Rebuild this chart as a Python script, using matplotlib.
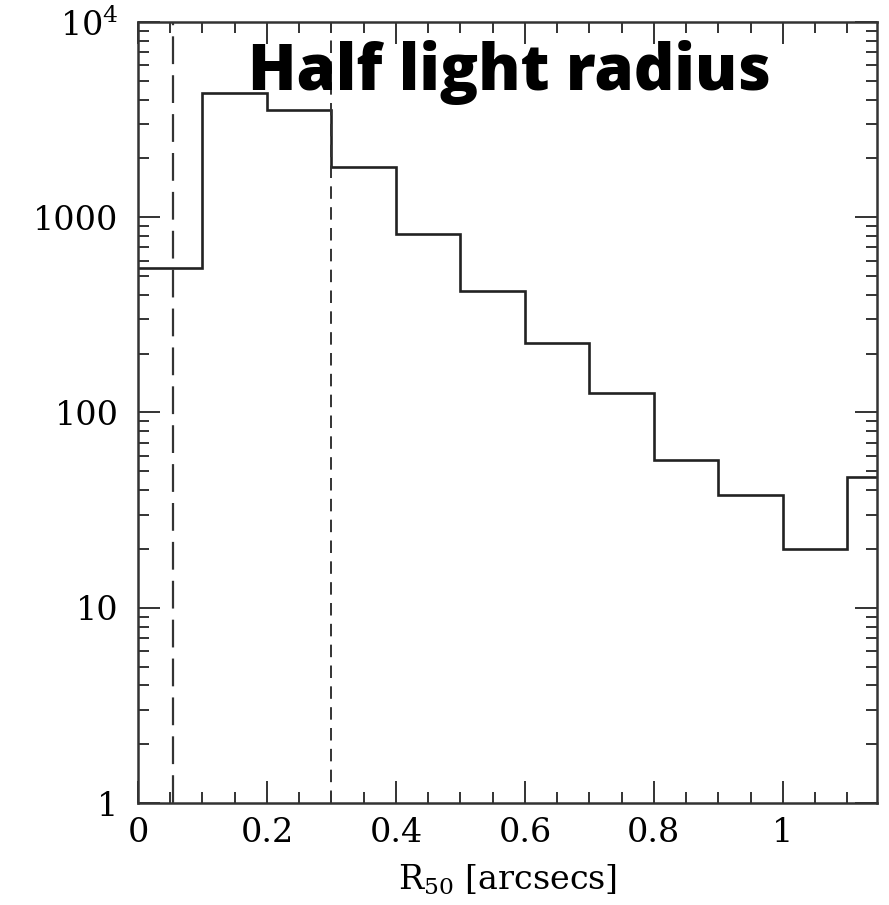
import numpy as np
import matplotlib
matplotlib.use("Agg")
import matplotlib.pyplot as plt
from matplotlib.ticker import LogLocator, MultipleLocator, NullFormatter, FixedLocator, FixedFormatter

# histogram of half light radius, bins of 0.1 arcsec (last one runs off the axis)
bin_edges = [0.0, 0.1, 0.2, 0.3, 0.4, 0.5, 0.6, 0.7, 0.8, 0.9, 1.0, 1.1, 1.15]
counts = [550, 4330, 3540, 1810, 820, 419, 227, 126, 57, 38, 20, 47]

psf_cut = 0.055
size_cut = 0.3

y_ticks = [1, 10, 100, 1000, 10000]
y_ticklabels = ["1", "10", "100", "1000", r"$10^4$"]
x_ticks = [0, 0.2, 0.4, 0.6, 0.8, 1.0]
x_ticklabels = ["0", "0.2", "0.4", "0.6", "0.8", "1"]

plt.rcParams["font.family"] = "DejaVu Serif"
plt.rcParams["mathtext.fontset"] = "dejavuserif"
plt.rcParams["lines.scale_dashes"] = False

fig = plt.figure(figsize=(8.89, 9.05), dpi=100)
ax = fig.add_axes([0.1552, 0.1127, 0.8313, 0.863])

ax.stairs(counts, bin_edges, baseline=None, color="#222222", lw=1.9)
ax.axvline(psf_cut, color="#333333", lw=1.6, dashes=(20, 8))
ax.axvline(size_cut, color="#333333", lw=1.4, dashes=(9, 6))

ax.set_yscale("log")
ax.set_ylim(1, 1e4)
ax.set_xlim(0, 1.146)

ax.xaxis.set_major_locator(FixedLocator(x_ticks))
ax.xaxis.set_major_formatter(FixedFormatter(x_ticklabels))
ax.xaxis.set_minor_locator(MultipleLocator(0.05))
ax.yaxis.set_major_locator(FixedLocator(y_ticks))
ax.yaxis.set_major_formatter(FixedFormatter(y_ticklabels))
ax.yaxis.set_minor_locator(LogLocator(base=10, subs=np.arange(2, 10)))
ax.yaxis.set_minor_formatter(NullFormatter())

ax.tick_params(which="both", direction="in", top=True, right=True,
               color="#333333", width=1.4)
ax.tick_params(which="major", length=16, labelsize=24)
ax.tick_params(which="minor", length=8)
ax.tick_params(axis="y", which="major", pad=14)
ax.tick_params(axis="x", which="major", pad=10)
for s in ax.spines.values():
    s.set_linewidth(1.8)
    s.set_color("#333333")

ax.set_xlabel(r"R$_{50}$ [arcsecs]", fontsize=24, labelpad=10)

ax.text(0.149, 0.913, "Half light radius", transform=ax.transAxes,
        family="Open Sans", fontweight="heavy", fontsize=45.5, va="baseline", ha="left")

fig.savefig("out.png", dpi=100)
